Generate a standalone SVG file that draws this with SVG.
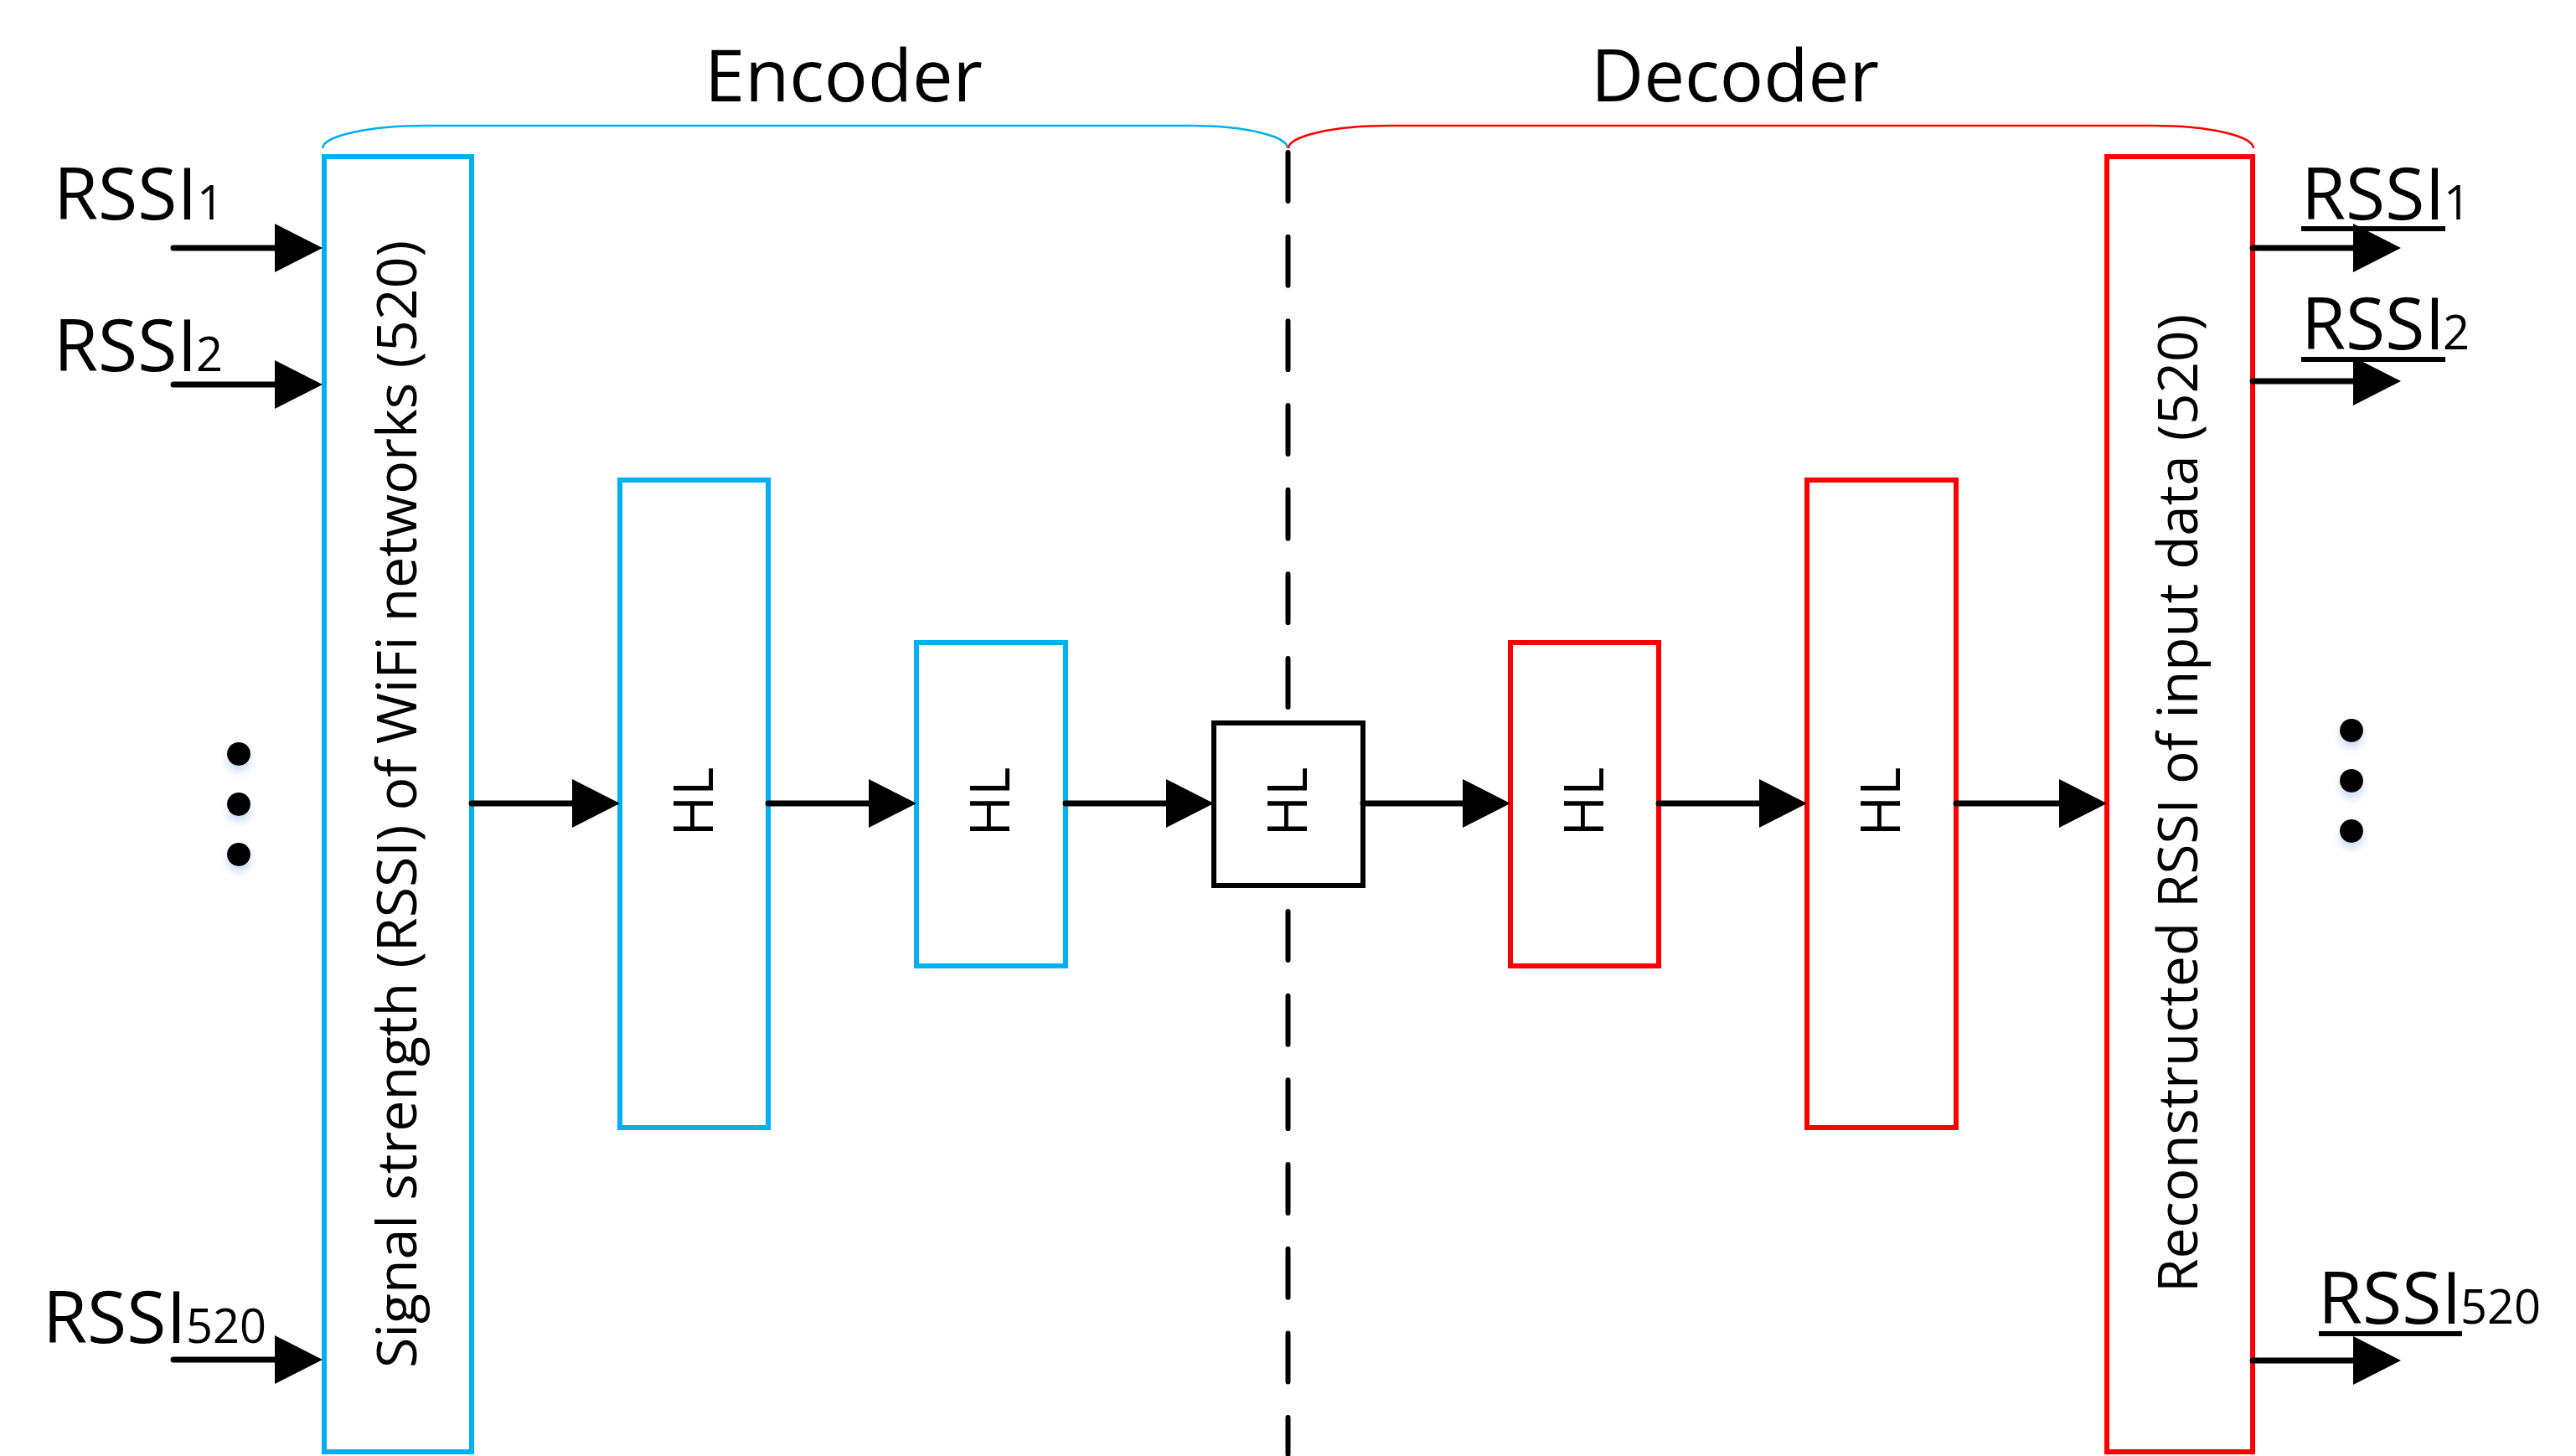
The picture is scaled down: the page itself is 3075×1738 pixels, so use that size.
<svg xmlns="http://www.w3.org/2000/svg" width="3075" height="1738" viewBox="0 0 3075 1738">
<style>
text{font-family:"Open Sans","Noto Sans",sans-serif;fill:#000}
.big{font-size:86px}
.sub{font-size:56px}
.hl{font-size:66px;text-anchor:middle}
.rot{font-size:66px;text-anchor:middle}
.blue{fill:#fff;stroke:#00B0F0;stroke-width:6}
.red{fill:#fff;stroke:#FF0000;stroke-width:6}
.blk{fill:#fff;stroke:#000;stroke-width:6}
.conn{stroke:#000;stroke-width:7;stroke-linecap:round;fill:none;marker-end:url(#ah)}
.ul{stroke:#000;stroke-width:6}
.brace{fill:none;stroke-width:2.5}
</style>
<defs>
<marker id="ah" markerUnits="userSpaceOnUse" markerWidth="57" markerHeight="58" viewBox="0 0 57 58" refX="0" refY="29" orient="auto">
<path d="M0,0 L57,29 L0,58 Z" fill="#000"/>
</marker>
<filter id="glow" x="-150%" y="-150%" width="400%" height="400%">
<feDropShadow dx="0" dy="7" stdDeviation="5" flood-color="#b8d0ee" flood-opacity="0.7"/>
</filter>
</defs>
<rect width="3075" height="1738" fill="#fff"/>

<g id="braces">
<path class="brace" stroke="#00B0F0" d="M385,177 A124,27 0 0 1 509,150 L1421,150 A116,27 0 0 1 1537,177"/>
<path class="brace" stroke="#FF0000" d="M1538,177 A121,27 0 0 1 1659,150 L2570,150 A120,27 0 0 1 2690,177"/>
<text class="big" x="1007" y="121" text-anchor="middle" textLength="332" lengthAdjust="spacingAndGlyphs">Encoder</text>
<text class="big" x="2071" y="121" text-anchor="middle" textLength="344" lengthAdjust="spacingAndGlyphs">Decoder</text>
</g>

<g id="divider">
<line x1="1537.5" y1="182" x2="1537.5" y2="1736" stroke="#000" stroke-width="6" stroke-linecap="round" stroke-dasharray="58 42.67"/>
</g>

<g id="input-layer">
<rect class="blue" x="387" y="187" width="176" height="1546"/>
<text class="rot" transform="translate(497,960) rotate(-90)" textLength="1346" lengthAdjust="spacingAndGlyphs">Signal strength (RSSI) of WiFi networks (520)</text>
</g>

<g id="hl1">
<rect class="blue" x="740" y="573" width="177" height="773"/>
<text class="hl" transform="translate(851,957) rotate(-90)">HL</text>
</g>
<g id="hl2">
<rect class="blue" x="1094" y="767" width="178" height="386"/>
<text class="hl" transform="translate(1205,957) rotate(-90)">HL</text>
</g>
<g id="hl3">
<rect class="blk" x="1449" y="863" width="178" height="194"/>
<text class="hl" transform="translate(1560,957) rotate(-90)">HL</text>
</g>
<g id="hl4">
<rect class="red" x="1803" y="767" width="177" height="386"/>
<text class="hl" transform="translate(1914,957) rotate(-90)">HL</text>
</g>
<g id="hl5">
<rect class="red" x="2157" y="573" width="178" height="773"/>
<text class="hl" transform="translate(2268,957) rotate(-90)">HL</text>
</g>

<g id="output-layer">
<rect class="red" x="2515" y="187" width="174" height="1546"/>
<text class="rot" transform="translate(2623,959) rotate(-90)" textLength="1168" lengthAdjust="spacingAndGlyphs">Reconstructed RSSI of input data (520)</text>
</g>

<g id="input-labels">
<text class="big" x="64" y="262">RSSI<tspan class="sub" x="235">1</tspan></text>
<text class="big" x="64" y="443">RSSI<tspan class="sub" x="234">2</tspan></text>
<text class="big" x="51" y="1603">RSSI<tspan class="sub" x="222">520</tspan></text>
</g>

<g id="output-labels">
<text class="big" x="2747" y="262">RSSI<tspan class="sub" x="2917">1</tspan></text>
<line class="ul" x1="2747" y1="273" x2="2919" y2="273"/>
<text class="big" x="2747" y="417">RSSI<tspan class="sub" x="2916">2</tspan></text>
<line class="ul" x1="2747" y1="429" x2="2919" y2="429"/>
<text class="big" x="2767" y="1580">RSSI<tspan class="sub" x="2937">520</tspan></text>
<line class="ul" x1="2768" y1="1592" x2="2939" y2="1592"/>
</g>

<g id="ellipsis-left" filter="url(#glow)">
<circle cx="285" cy="900" r="14"/>
<circle cx="285" cy="960" r="14"/>
<circle cx="285" cy="1020" r="14"/>
</g>
<g id="ellipsis-right" filter="url(#glow)">
<circle cx="2807" cy="872" r="14"/>
<circle cx="2807" cy="932" r="14"/>
<circle cx="2807" cy="992" r="14"/>
</g>

<g id="connectors">
<line class="conn" x1="207" y1="296" x2="328" y2="296"/>
<line class="conn" x1="207" y1="459" x2="328" y2="459"/>
<line class="conn" x1="207" y1="1623" x2="328" y2="1623"/>
<line class="conn" x1="563" y1="959" x2="683" y2="959"/>
<line class="conn" x1="917" y1="959" x2="1037" y2="959"/>
<line class="conn" x1="1272" y1="959" x2="1392" y2="959"/>
<line class="conn" x1="1627" y1="959" x2="1746" y2="959"/>
<line class="conn" x1="1980" y1="959" x2="2100" y2="959"/>
<line class="conn" x1="2335" y1="959" x2="2458" y2="959"/>
<line class="conn" x1="2689" y1="296" x2="2809" y2="296"/>
<line class="conn" x1="2689" y1="455" x2="2809" y2="455"/>
<line class="conn" x1="2689" y1="1624" x2="2809" y2="1624"/>
</g>
</svg>
